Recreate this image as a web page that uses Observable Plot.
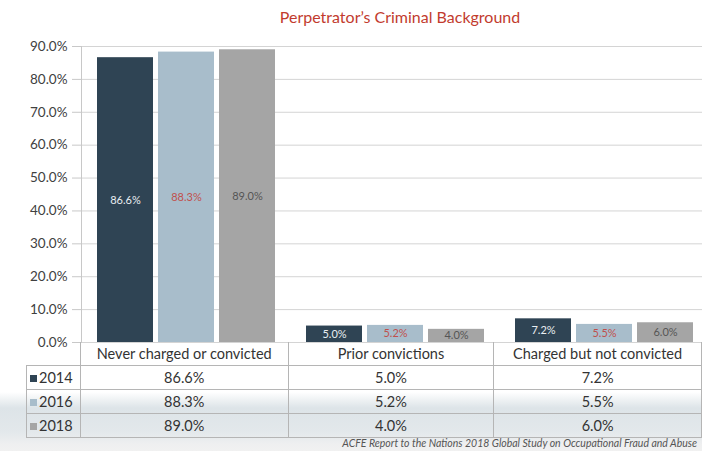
<!DOCTYPE html>
<html>
<head>
<meta charset="utf-8">
<script src="https://cdn.jsdelivr.net/npm/d3@7"></script>
<script src="https://cdn.jsdelivr.net/npm/@observablehq/plot@0.6"></script>
<style>
  html, body { margin: 0; padding: 0; }
  body {
    width: 702px; height: 451px; position: relative; overflow: hidden;
    font-family: Lato, "Open Sans", sans-serif;
    background: linear-gradient(to bottom, #ffffff 0px, #ffffff 392px, #dde4e8 408px, #e3e8eb 432px, #eeeff0 444px, #f1f1f1 451px);
  }
  #title {
    position: absolute; top: 5px; left: 200px; width: 400px; text-align: center;
    color: #c23b2e; font-size: 16px; line-height: 24px;
  }
  #chart { position: absolute; top: 30px; left: 0; }
  #chart svg { background: transparent; overflow: visible; }
  #tbl {
    position: absolute; top: 342px; left: 26px; border-collapse: collapse;
    font-size: 14.5px; color: #333; table-layout: fixed;
  }
  #tbl td { height: 23px; padding: 0; border: 1px solid #b5b5b5; text-align: center; white-space: nowrap; }
  #tbl td.leg { text-align: left; padding-left: 3px; }
  #tbl td.blank { border: none; border-right: 1px solid #b5b5b5; }
  #tbl tr.head td { border-top: none; }
  .sw { display: inline-block; width: 7px; height: 7px; margin-right: 2px; vertical-align: 1px; }
  #caption {
    position: absolute; top: 437px; right: 5px; font-size: 10.5px; font-style: italic; color: #555;
  }
</style>
</head>
<body>
<div id="title"></div>
<div id="chart"></div>
<table id="tbl"></table>
<div id="caption"></div>
<script>
const titleText = "Perpetrator’s Criminal Background";
const captionText = "ACFE Report to the Nations 2018 Global Study on Occupational Fraud and Abuse";
const categories = ["Never charged or convicted", "Prior convictions", "Charged but not convicted"];
const years = ["2014", "2016", "2018"];
const values2014 = [86.6, 5.0, 7.2];
const values2016 = [88.3, 5.2, 5.5];
const values2018 = [89.0, 4.0, 6.0];
const yTicks = [0, 10, 20, 30, 40, 50, 60, 70, 80, 90];
const barColors = ["#2f4454", "#a8bdcb", "#a5a5a5"];
const labelColors = ["#e9eef2", "#c0504d", "#555555"];

const seriesValues = [values2014, values2016, values2018];
const data = [];
years.forEach((yr, i) => categories.forEach((c, j) => data.push({category: c, year: yr, value: seriesValues[i][j]})));
const fmt = v => v.toFixed(1) + "%";

document.getElementById("title").textContent = titleText;
document.getElementById("caption").textContent = captionText;

const plot = Plot.plot({
  width: 702,
  height: 313,
  marginLeft: 80,
  marginRight: -6,
  marginTop: 16,
  marginBottom: 1,
  style: {fontFamily: "Lato, 'Open Sans', sans-serif", background: "transparent", overflow: "visible"},
  fx: {domain: categories, padding: 0, axis: null},
  x: {domain: years, axis: null, paddingInner: 0.087, paddingOuter: 0.25},
  y: {domain: [0, 90], axis: null},
  color: {domain: years, range: barColors},
  marks: [
    Plot.gridY(yTicks, {stroke: "#d4d4d4", strokeOpacity: 1}),
    Plot.axisY(yTicks, {tickFormat: fmt, tickSize: 9, tickPadding: 5, fontSize: 13.5, fill: "#404040", stroke: "#c8c8c8", label: null, facetAnchor: "left"}),
    Plot.frame({anchor: "left", stroke: "#c8c8c8", facetAnchor: "left"}),
    Plot.barY(data, {fx: "category", x: "year", y: "value", fill: "year"}),
    Plot.text(data, {
      fx: "category", x: "year", y: d => d.value / 2, text: d => fmt(d.value),
      fill: d => labelColors[years.indexOf(d.year)], fontSize: 11
    })
  ]
});
document.getElementById("chart").appendChild(plot);

// data table below the chart
const tbl = d3.select("#tbl");
const colg = tbl.append("colgroup");
colg.append("col").style("width", "54px");
categories.forEach(() => colg.append("col").style("width", "209.3px"));
const head = tbl.append("tr").attr("class", "head");
head.append("td").attr("class", "blank");
categories.forEach(c => head.append("td").text(c));
years.forEach((yr, i) => {
  const tr = tbl.append("tr");
  const lg = tr.append("td").attr("class", "leg");
  lg.append("span").attr("class", "sw").style("background", barColors[i]);
  lg.append("span").text(yr);
  seriesValues[i].forEach(v => tr.append("td").text(fmt(v)));
});
</script>
</body>
</html>
